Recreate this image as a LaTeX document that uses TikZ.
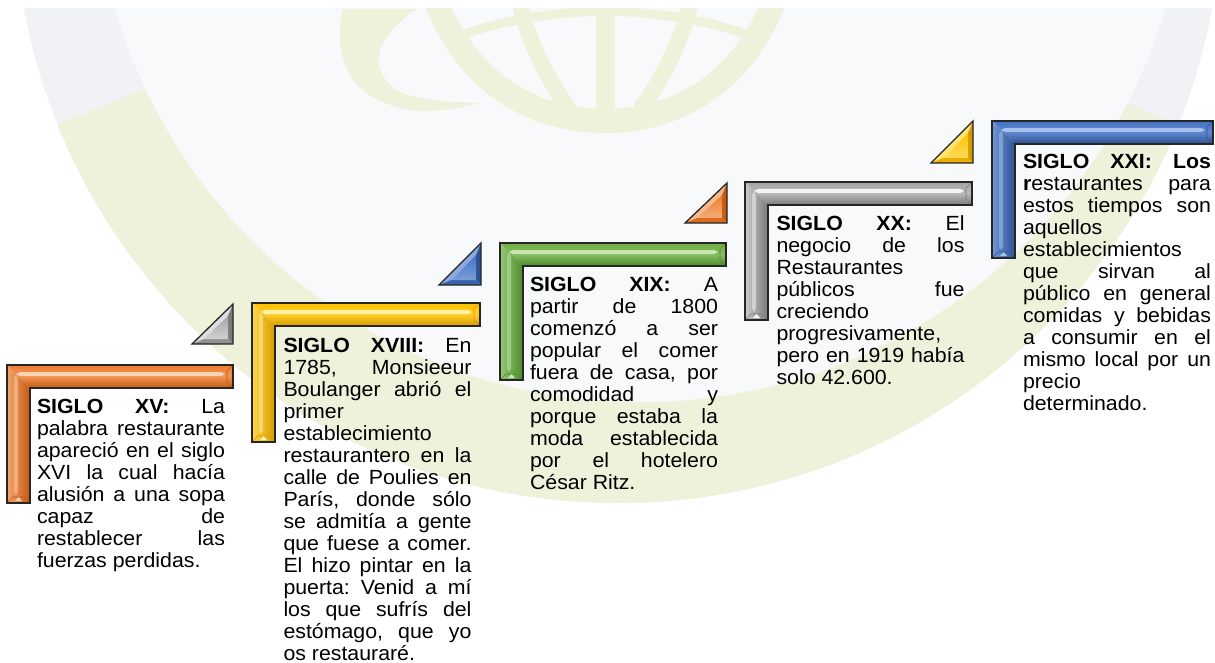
\documentclass[tikz,border=0pt]{standalone}
\usepackage{fontspec}
\setmainfont{Liberation Sans}[FakeStretch=1.04]
\frenchspacing
\definecolor{ringgray}{HTML}{F1F2F5}
\definecolor{ringgreen}{HTML}{EEF2DA}
\definecolor{innerbg}{HTML}{F8F9FA}
\definecolor{orB}{HTML}{ED7D31}\definecolor{orL}{HTML}{FAD3B4}\definecolor{orD}{HTML}{C55A11}
\definecolor{yeB}{HTML}{FFC000}\definecolor{yeL}{HTML}{FFF2A6}\definecolor{yeD}{HTML}{D49B00}
\definecolor{grB}{HTML}{70AD47}\definecolor{grL}{HTML}{C9E6AE}\definecolor{grD}{HTML}{4C8A2C}
\definecolor{gyB}{HTML}{A5A5A5}\definecolor{gyL}{HTML}{F5F5F5}\definecolor{gyD}{HTML}{7A7A7A}
\definecolor{blB}{HTML}{4472C4}\definecolor{blL}{HTML}{A8C2EC}\definecolor{blD}{HTML}{2D5294}
\newcommand{\jl}[1]{\hbox to 188pt{#1}}
\newcommand{\lft}[1]{\hbox{#1}}
\newcommand{\stepbracket}[5]{%
 \shade[top color=#5B, bottom color=#5D, middle color=#5B!75!#5L] (#1,#2) -- (#3,#2) -- (#3,{#2+23}) -- ({#1+23},{#2+23}) -- cycle;
 \shade[left color=#5L!45!#5B, right color=#5D] (#1,#2) -- ({#1+23},{#2+23}) -- ({#1+23},#4) -- (#1,#4) -- cycle;
 \fill[#5L] ({#1+9},{#2+9}) -- ({#1+13},{#2+7}) -- ({#3-12},{#2+7}) -- ({#3-8},{#2+9}) -- ({#3-12},{#2+11}) -- ({#1+13},{#2+11}) -- cycle;
 \fill[#5L, opacity=0.5] ({#1+7},{#2+13}) -- ({#1+9},{#2+9}) -- ({#1+11},{#2+13}) -- ({#1+11},{#4-12}) -- ({#1+9},{#4-8}) -- ({#1+7},{#4-12}) -- cycle;
 \draw[#5D, line width=0.6pt] (#3,#2) -- ({#3-6},{#2+6}) -- ({#3-6},{#2+17}) -- (#3,{#2+23});
 \draw[#5D, line width=0.6pt] (#1,#4) -- ({#1+6},{#4-6}) -- ({#1+17},{#4-6}) -- ({#1+23},#4);
 \fill[#5L] ({#1+8},{#4-2}) -- ({#1+11.5},{#4-6}) -- ({#1+15},{#4-2}) -- cycle;
 \draw[line width=1.3pt, black!85, line join=miter] (#1,#2) -- (#3,#2) -- (#3,{#2+23}) -- ({#1+23},{#2+23}) -- ({#1+23},#4) -- (#1,#4) -- cycle;
}
\newcommand{\steptri}[5]{%
 \fill[#5L!70!#5B] (#1,#2) -- (#3,#4) -- ({#3-5},{#4+12}) -- ({#1+12},{#2-5}) -- cycle;
 \fill[#5D!50!#5B] (#1,#2) -- (#3,#2) -- ({#3-5},{#2-5}) -- ({#1+12},{#2-5}) -- cycle;
 \fill[#5D] (#3,#2) -- (#3,#4) -- ({#3-5},{#4+12}) -- ({#3-5},{#2-5}) -- cycle;
 \shade[top color=#5B, bottom color=#5L!55!#5B] ({#1+12},{#2-5}) -- ({#3-5},{#2-5}) -- ({#3-5},{#4+12}) -- cycle;
 \draw[line width=1.3pt, black!85, line join=miter] (#1,#2) -- (#3,#2) -- (#3,#4) -- cycle;
}
\begin{document}
\begin{tikzpicture}[x=1pt,y=-1pt,
  txt/.style={anchor=base west,inner sep=0pt,outer sep=0pt,font=\fontsize{20.5}{22}\selectfont,text=black}]
\useasboundingbox (0,0) rectangle (1215,663);
\fill[white] (0,0) rectangle (1215,663);
% background ring
\begin{scope}
 \clip (0,9) rectangle (1215,663);
 \fill[ringgray] (618,-101) circle[radius=604pt];
 \begin{scope}
  \clip (618,-101) circle[radius=604pt];
  \fill[ringgreen] (618,-101) -- (-310,272) -- (-310,1200) -- (1546,1200) -- (1546,272) -- cycle;
 \end{scope}
 \fill[innerbg] (640,-145) circle[radius=547pt];
 % globe watermark
 \fill[ringgreen] (343,9) .. controls (338,30) and (338,55) .. (350,75) .. controls (365,100) and (400,112) .. (430,111) .. controls (450,110) and (468,106) .. (480,103) .. controls (450,102) and (420,100) .. (400,92) .. controls (382,82) and (376,65) .. (380,50) .. controls (385,35) and (400,20) .. (417,9) -- cycle;
 \draw[ringgreen, line width=24pt] (437,4) .. controls (470,85) and (535,121) .. (605,121) .. controls (675,121) and (740,85) .. (773,4);
 \draw[ringgreen, line width=19pt] (605,5) -- (605,112);
 \draw[ringgreen, line width=16pt] (520,5) .. controls (530,45) and (548,80) .. (570,110);
 \draw[ringgreen, line width=16pt] (690,5) .. controls (680,45) and (662,80) .. (640,110);
 \draw[ringgreen, line width=9pt] (450,40) .. controls (490,22) and (550,12) .. (605,11) .. controls (660,12) and (720,22) .. (760,40);
\end{scope}
% steps
\stepbracket{7}{365}{233}{503}{or}
\steptri{192}{344}{233}{304}{gy}
\stepbracket{252}{303}{480}{442}{ye}
\steptri{439}{285}{481}{243}{bl}
\stepbracket{500}{243}{726}{380}{gr}
\steptri{685}{223}{727}{183}{or}
\stepbracket{745}{182}{972}{320}{gy}
\steptri{931}{163}{973}{121}{ye}
\stepbracket{992}{121}{1213}{258}{bl}
% texts
\node[txt] (t1) at (37,413) {\vtop{\baselineskip=22pt
 \jl{\textbf{SIGLO XV:} La}\jl{palabra restaurante}\jl{apareció en el siglo}\jl{XVI la cual hacía}\jl{alusión a una sopa}\jl{capaz de}\jl{restablecer las}\lft{fuerzas perdidas.}}};
\node[txt] (t2) at (283.5,352) {\vtop{\baselineskip=22pt
 \jl{\textbf{SIGLO XVIII:} En}\jl{1785, Monsieeur}\jl{Boulanger abrió el}\lft{primer}\lft{establecimiento}\jl{restaurantero en la}\jl{calle de Poulies en}\jl{París, donde sólo}\jl{se admitía a gente}\jl{que fuese a comer.}\jl{El hizo pintar en la}\jl{puerta: Venid a mí}\jl{los que sufrís del}\jl{estómago, que yo}\lft{os restauraré.}}};
\node[txt] (t3) at (530,291) {\vtop{\baselineskip=22pt
 \jl{\textbf{SIGLO XIX:} A}\jl{partir de 1800}\jl{comenzó a ser}\jl{popular el comer}\jl{fuera de casa, por}\jl{comodidad y}\jl{porque estaba la}\jl{moda establecida}\jl{por el hotelero}\lft{César Ritz.}}};
\node[txt] (t4) at (776.5,230) {\vtop{\baselineskip=22pt
 \jl{\textbf{SIGLO XX:} El}\jl{negocio de los}\lft{Restaurantes}\jl{públicos fue}\lft{creciendo}\lft{progresivamente,}\jl{pero en 1919 había}\lft{solo 42.600.}}};
\node[txt] (t5) at (1023,169) {\vtop{\baselineskip=22pt
 \jl{\textbf{SIGLO XXI: Los}}\jl{\textbf{r}estaurantes para}\jl{estos tiempos son}\lft{aquellos}\lft{establecimientos}\jl{que sirvan al}\jl{público en general}\jl{comidas y bebidas}\jl{a consumir en el}\jl{mismo local por un}\lft{precio}\lft{determinado.}}};
\end{tikzpicture}
\end{document}
